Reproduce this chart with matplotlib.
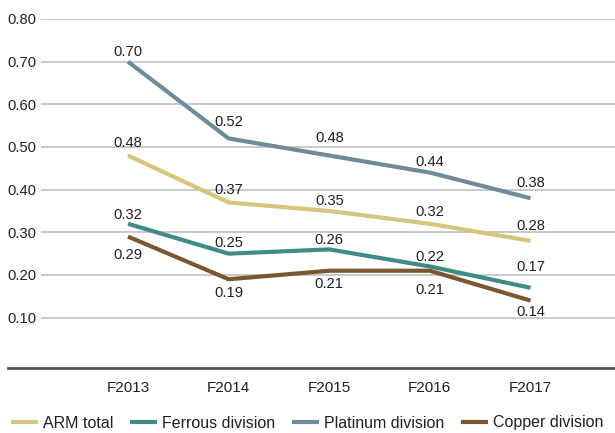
import matplotlib.pyplot as plt
from matplotlib.lines import Line2D

plt.rcParams['font.family'] = ['Liberation Sans', 'DejaVu Sans']

years = ['F2013', 'F2014', 'F2015', 'F2016', 'F2017']
arm_total = [0.48, 0.37, 0.35, 0.32, 0.28]
ferrous = [0.32, 0.25, 0.26, 0.22, 0.17]
platinum = [0.70, 0.52, 0.48, 0.44, 0.38]
copper = [0.29, 0.19, 0.21, 0.21, 0.14]

# label offsets in pixels (up is positive), as placed in the original
arm_off = [12.5, 12.5, 9.5, 12, 15]
ferrous_off = [9, 10.5, 9, 9.5, 21]
platinum_off = [10, 16.5, 18, 10.5, 15]
copper_off = [-18, -14, -13.5, -19.5, -11]

series = [
    ('ARM total', arm_total, '#d6c57c', arm_off),
    ('Ferrous division', ferrous, '#3f8b86', ferrous_off),
    ('Platinum division', platinum, '#6f8b97', platinum_off),
    ('Copper division', copper, '#7b5631', copper_off),
]
txt = '#231f20'

fig = plt.figure(figsize=(6.15, 4.33), dpi=100)
ax = fig.add_axes([41 / 615, 1 - 368 / 433, 1 - 41 / 615, (368 - 19) / 433])

x = list(range(len(years)))
for name, vals, col, offs in series:
    ax.plot(x, vals, color=col, lw=3, label=name, solid_capstyle='butt')
    for xi, v, off in zip(x, vals, offs):
        ax.annotate(f'{v:.2f}', (xi, v), xytext=(0, off), textcoords='offset pixels',
                    ha='center', va='center', fontsize=10.6, color=txt)

ax.set_ylim(-0.018, 0.80)
ax.set_xlim(-0.865, 4.84)
ax.set_yticks([0.1, 0.2, 0.3, 0.4, 0.5, 0.6, 0.7, 0.8])
ax.set_yticklabels([f'{t:.2f}' for t in ax.get_yticks()])
ax.set_xticks(x)
ax.set_xticklabels(years)
ax.grid(axis='y', color='#c6c6c6', lw=1.3)
ax.set_axisbelow(True)
for s in ax.spines.values():
    s.set_visible(False)
ax.tick_params(length=0, labelsize=10.6, colors=txt)
ax.tick_params(axis='y', pad=3)
ax.tick_params(axis='x', pad=9, labelsize=11)

fig.add_artist(Line2D([8 / 615, 1], [1 - 368 / 433] * 2, color='#555555', lw=2))

fig.legend(loc='center', bbox_to_anchor=(0.5, 1 - 423 / 433), ncol=4, frameon=False,
           fontsize=11.5, handlelength=1.65, handletextpad=0.35, columnspacing=1.05,
           borderaxespad=0, labelcolor=txt)

fig.savefig('out.png', dpi=100)
